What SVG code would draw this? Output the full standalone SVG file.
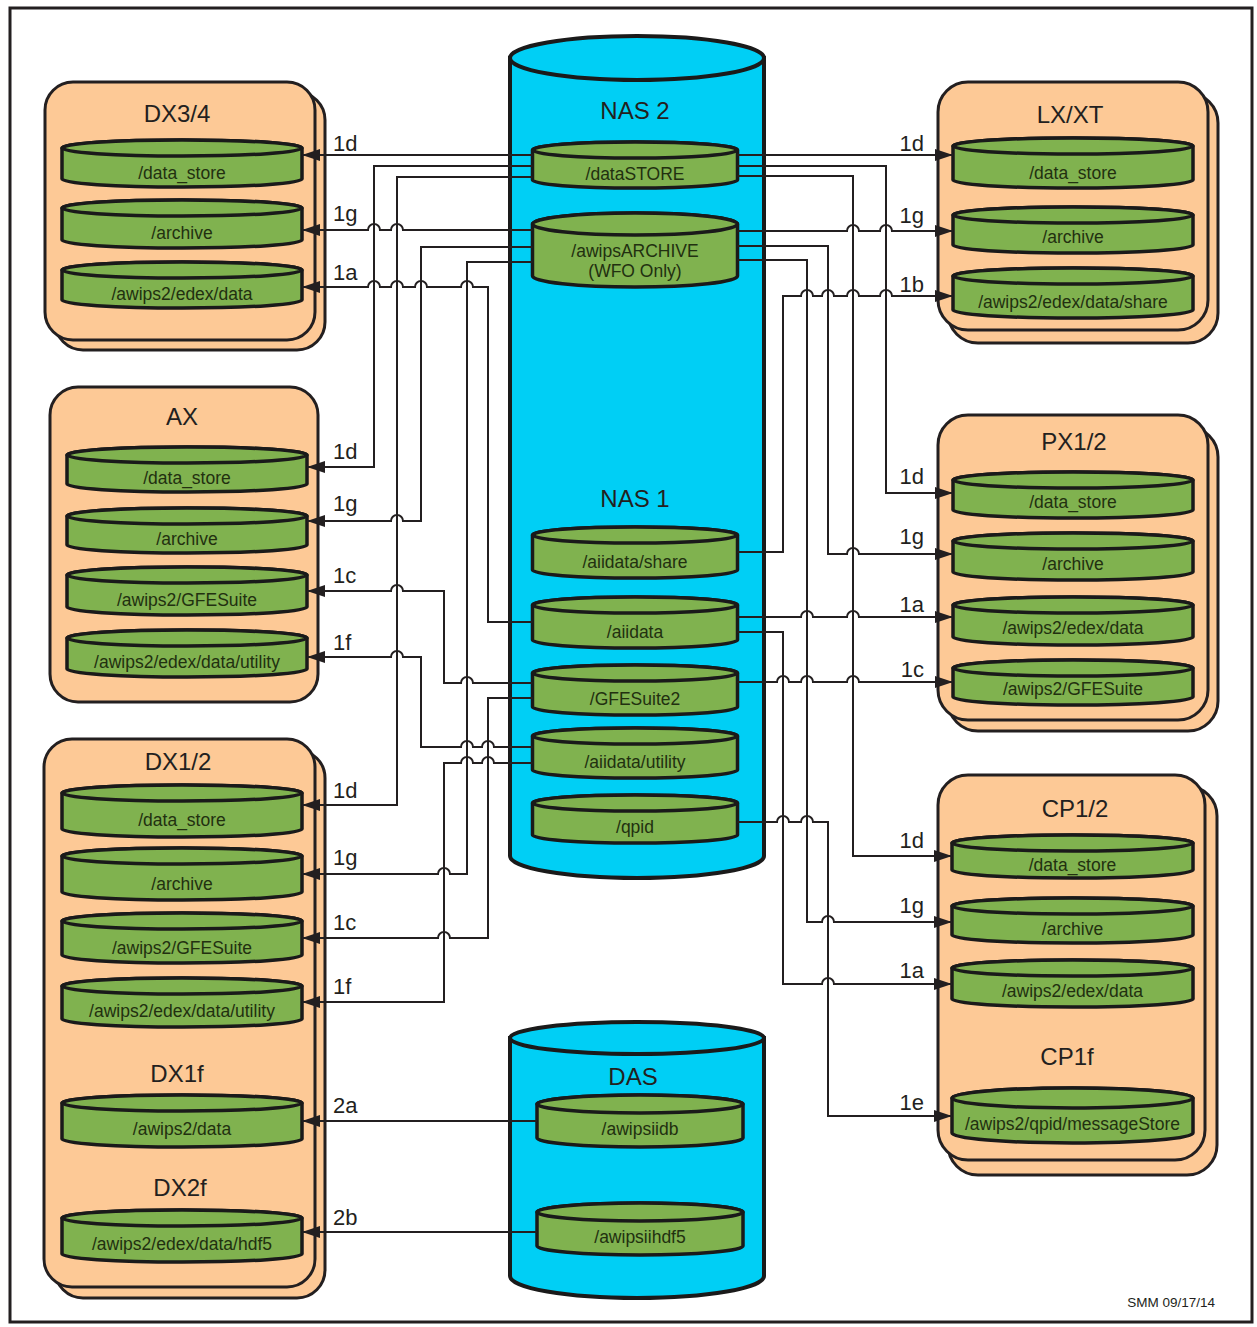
<svg xmlns="http://www.w3.org/2000/svg" width="1257" height="1327" viewBox="0 0 1257 1327">
<style>
.box{fill:#fdc996;stroke:#231f20;stroke-width:3}
.cyl{fill:#80b24f;stroke:#1a1a1a;stroke-width:3.5}
.store{fill:#00cff5;stroke:#1a1a1a;stroke-width:4}
.ttl{font-family:"Liberation Sans",Arial,sans-serif;font-size:24px;fill:#231f20;text-anchor:middle}
.ct{font-family:"Liberation Sans",Arial,sans-serif;font-size:17.5px;fill:#223010;text-anchor:middle}
.lbl{font-family:"Liberation Sans",Arial,sans-serif;font-size:22px;fill:#231f20}
.lbl.r{text-anchor:end}
.wire{fill:none;stroke:#231f20;stroke-width:2}
.wire.a{marker-end:url(#ah)}
</style>
<defs>
<marker id="ah" viewBox="0 0 18 12" markerWidth="18" markerHeight="12" refX="18" refY="6" orient="auto" markerUnits="userSpaceOnUse"><path d="M0,0 L18,6 L0,12 Z" fill="#231f20"/></marker>
</defs>
<rect x="0" y="0" width="1257" height="1327" fill="#fff"/>
<rect x="10" y="8" width="1242" height="1314" fill="none" stroke="#231f20" stroke-width="3"/>

<!-- DX3/4 -->
<g id="dx34">
<rect class="box" x="55" y="92" width="270" height="258" rx="28"/>
<rect class="box" x="45" y="82" width="270" height="258" rx="28"/>
<text class="ttl" x="177" y="122">DX3/4</text>
<path class="cyl" d="M62,148 V179 A120,8 0 0 0 302,179 V148 A120,8 0 0 0 62,148 Z"/><ellipse class="cyl" cx="182" cy="148" rx="120" ry="8"/><text class="ct" x="182" y="179">/data_store</text>
<path class="cyl" d="M62,208 V240 A120,8 0 0 0 302,240 V208 A120,8 0 0 0 62,208 Z"/><ellipse class="cyl" cx="182" cy="208" rx="120" ry="8"/><text class="ct" x="182" y="239">/archive</text>
<path class="cyl" d="M62,270 V300 A120,8 0 0 0 302,300 V270 A120,8 0 0 0 62,270 Z"/><ellipse class="cyl" cx="182" cy="270" rx="120" ry="8"/><text class="ct" x="182" y="300">/awips2/edex/data</text>
</g>

<!-- AX -->
<g id="ax">
<rect class="box" x="50" y="387" width="268" height="315" rx="28"/>
<text class="ttl" x="182" y="425">AX</text>
<path class="cyl" d="M67,455 V484 A120,8 0 0 0 307,484 V455 A120,8 0 0 0 67,455 Z"/><ellipse class="cyl" cx="187" cy="455" rx="120" ry="8"/><text class="ct" x="187" y="484">/data_store</text>
<path class="cyl" d="M67,516 V545 A120,8 0 0 0 307,545 V516 A120,8 0 0 0 67,516 Z"/><ellipse class="cyl" cx="187" cy="516" rx="120" ry="8"/><text class="ct" x="187" y="545">/archive</text>
<path class="cyl" d="M67,575 V607 A120,8 0 0 0 307,607 V575 A120,8 0 0 0 67,575 Z"/><ellipse class="cyl" cx="187" cy="575" rx="120" ry="8"/><text class="ct" x="187" y="606">/awips2/GFESuite</text>
<path class="cyl" d="M67,638 V669 A120,8 0 0 0 307,669 V638 A120,8 0 0 0 67,638 Z"/><ellipse class="cyl" cx="187" cy="638" rx="120" ry="8"/><text class="ct" x="187" y="668">/awips2/edex/data/utility</text>
</g>

<!-- DX1/2 -->
<g id="dx12">
<rect class="box" x="55" y="750" width="270" height="548" rx="28"/>
<rect class="box" x="44" y="739" width="271" height="548" rx="28"/>
<text class="ttl" x="178" y="770">DX1/2</text>
<path class="cyl" d="M62,793 V829 A120,8 0 0 0 302,829 V793 A120,8 0 0 0 62,793 Z"/><ellipse class="cyl" cx="182" cy="793" rx="120" ry="8"/><text class="ct" x="182" y="826">/data_store</text>
<path class="cyl" d="M62,856 V892 A120,8 0 0 0 302,892 V856 A120,8 0 0 0 62,856 Z"/><ellipse class="cyl" cx="182" cy="856" rx="120" ry="8"/><text class="ct" x="182" y="890">/archive</text>
<path class="cyl" d="M62,921 V955 A120,8 0 0 0 302,955 V921 A120,8 0 0 0 62,921 Z"/><ellipse class="cyl" cx="182" cy="921" rx="120" ry="8"/><text class="ct" x="182" y="954">/awips2/GFESuite</text>
<path class="cyl" d="M62,986 V1019 A120,8 0 0 0 302,1019 V986 A120,8 0 0 0 62,986 Z"/><ellipse class="cyl" cx="182" cy="986" rx="120" ry="8"/><text class="ct" x="182" y="1017">/awips2/edex/data/utility</text>
<text class="ttl" x="177" y="1082">DX1f</text>
<path class="cyl" d="M62,1103 V1139 A120,8 0 0 0 302,1139 V1103 A120,8 0 0 0 62,1103 Z"/><ellipse class="cyl" cx="182" cy="1103" rx="120" ry="8"/><text class="ct" x="182" y="1135">/awips2/data</text>
<text class="ttl" x="180" y="1196">DX2f</text>
<path class="cyl" d="M62,1218 V1254 A120,8 0 0 0 302,1254 V1218 A120,8 0 0 0 62,1218 Z"/><ellipse class="cyl" cx="182" cy="1218" rx="120" ry="8"/><text class="ct" x="182" y="1250">/awips2/edex/data/hdf5</text>
</g>

<!-- NAS -->
<g id="nas">
<path class="store" d="M510,58 V856 A127,22 0 0 0 764,856 V58 Z"/>
<ellipse class="store" cx="637" cy="58" rx="127" ry="22"/>
<text class="ttl" x="635" y="119">NAS 2</text>
<path class="cyl" d="M532.5,150 V180 A102.5,8 0 0 0 737.5,180 V150 A102.5,8 0 0 0 532.5,150 Z"/><ellipse class="cyl" cx="635" cy="150" rx="102.5" ry="8"/><text class="ct" x="635" y="180">/dataSTORE</text>
<path class="cyl" d="M532.5,224 V276 A102.5,11 0 0 0 737.5,276 V224 A102.5,11 0 0 0 532.5,224 Z"/><ellipse class="cyl" cx="635" cy="224" rx="102.5" ry="11"/><text class="ct" x="635" y="257">/awipsARCHIVE</text><text class="ct" x="635" y="277">(WFO Only)</text>
<text class="ttl" x="635" y="507">NAS 1</text>
<path class="cyl" d="M532.5,535 V570 A102.5,8 0 0 0 737.5,570 V535 A102.5,8 0 0 0 532.5,535 Z"/><ellipse class="cyl" cx="635" cy="535" rx="102.5" ry="8"/><text class="ct" x="635" y="568">/aiidata/share</text>
<path class="cyl" d="M532.5,605 V640 A102.5,8 0 0 0 737.5,640 V605 A102.5,8 0 0 0 532.5,605 Z"/><ellipse class="cyl" cx="635" cy="605" rx="102.5" ry="8"/><text class="ct" x="635" y="638">/aiidata</text>
<path class="cyl" d="M532.5,673 V707 A102.5,8 0 0 0 737.5,707 V673 A102.5,8 0 0 0 532.5,673 Z"/><ellipse class="cyl" cx="635" cy="673" rx="102.5" ry="8"/><text class="ct" x="635" y="705">/GFESuite2</text>
<path class="cyl" d="M532.5,736 V770 A102.5,8 0 0 0 737.5,770 V736 A102.5,8 0 0 0 532.5,736 Z"/><ellipse class="cyl" cx="635" cy="736" rx="102.5" ry="8"/><text class="ct" x="635" y="768">/aiidata/utility</text>
<path class="cyl" d="M532.5,803 V835 A102.5,8 0 0 0 737.5,835 V803 A102.5,8 0 0 0 532.5,803 Z"/><ellipse class="cyl" cx="635" cy="803" rx="102.5" ry="8"/><text class="ct" x="635" y="833">/qpid</text>
</g>

<!-- DAS -->
<g id="das">
<path class="store" d="M510,1038 V1276 A127,22 0 0 0 764,1276 V1038 Z"/>
<ellipse class="store" cx="637" cy="1038" rx="127" ry="16"/>
<text class="ttl" x="633" y="1085">DAS</text>
<path class="cyl" d="M537,1104 V1138 A103,9 0 0 0 743,1138 V1104 A103,9 0 0 0 537,1104 Z"/><ellipse class="cyl" cx="640" cy="1104" rx="103" ry="9"/><text class="ct" x="640" y="1135">/awipsiidb</text>
<path class="cyl" d="M537,1212 V1246 A103,9 0 0 0 743,1246 V1212 A103,9 0 0 0 537,1212 Z"/><ellipse class="cyl" cx="640" cy="1212" rx="103" ry="9"/><text class="ct" x="640" y="1243">/awipsiihdf5</text>
</g>

<!-- LX/XT -->
<g id="lxxt">
<rect class="box" x="948" y="93" width="270" height="250" rx="30"/>
<rect class="box" x="938" y="82" width="270" height="248" rx="30"/>
<text class="ttl" x="1070" y="123">LX/XT</text>
<path class="cyl" d="M953,146 V180 A120,8 0 0 0 1193,180 V146 A120,8 0 0 0 953,146 Z"/><ellipse class="cyl" cx="1073" cy="146" rx="120" ry="8"/><text class="ct" x="1073" y="179">/data_store</text>
<path class="cyl" d="M953,215 V245 A120,8 0 0 0 1193,245 V215 A120,8 0 0 0 953,215 Z"/><ellipse class="cyl" cx="1073" cy="215" rx="120" ry="8"/><text class="ct" x="1073" y="243">/archive</text>
<path class="cyl" d="M953,276 V310 A120,8 0 0 0 1193,310 V276 A120,8 0 0 0 953,276 Z"/><ellipse class="cyl" cx="1073" cy="276" rx="120" ry="8"/><text class="ct" x="1073" y="308">/awips2/edex/data/share</text>
</g>

<!-- PX1/2 -->
<g id="px12">
<rect class="box" x="948" y="427" width="270" height="304" rx="30"/>
<rect class="box" x="938" y="415" width="270" height="305" rx="30"/>
<text class="ttl" x="1074" y="450">PX1/2</text>
<path class="cyl" d="M953,480 V510 A120,8 0 0 0 1193,510 V480 A120,8 0 0 0 953,480 Z"/><ellipse class="cyl" cx="1073" cy="480" rx="120" ry="8"/><text class="ct" x="1073" y="508">/data_store</text>
<path class="cyl" d="M953,541 V572 A120,8 0 0 0 1193,572 V541 A120,8 0 0 0 953,541 Z"/><ellipse class="cyl" cx="1073" cy="541" rx="120" ry="8"/><text class="ct" x="1073" y="570">/archive</text>
<path class="cyl" d="M953,605 V637 A120,8 0 0 0 1193,637 V605 A120,8 0 0 0 953,605 Z"/><ellipse class="cyl" cx="1073" cy="605" rx="120" ry="8"/><text class="ct" x="1073" y="634">/awips2/edex/data</text>
<path class="cyl" d="M953,668 V697 A120,8 0 0 0 1193,697 V668 A120,8 0 0 0 953,668 Z"/><ellipse class="cyl" cx="1073" cy="668" rx="120" ry="8"/><text class="ct" x="1073" y="695">/awips2/GFESuite</text>
</g>

<!-- CP1/2 -->
<g id="cp12">
<rect class="box" x="948" y="786" width="269" height="389" rx="30"/>
<rect class="box" x="938" y="775" width="267" height="385" rx="30"/>
<text class="ttl" x="1075" y="817">CP1/2</text>
<path class="cyl" d="M952,843 V870 A120.5,8 0 0 0 1193,870 V843 A120.5,8 0 0 0 952,843 Z"/><ellipse class="cyl" cx="1072.5" cy="843" rx="120.5" ry="8"/><text class="ct" x="1072.5" y="871">/data_store</text>
<path class="cyl" d="M952,906 V935 A120.5,8 0 0 0 1193,935 V906 A120.5,8 0 0 0 952,906 Z"/><ellipse class="cyl" cx="1072.5" cy="906" rx="120.5" ry="8"/><text class="ct" x="1072.5" y="935">/archive</text>
<path class="cyl" d="M952,968 V999 A120.5,8 0 0 0 1193,999 V968 A120.5,8 0 0 0 952,968 Z"/><ellipse class="cyl" cx="1072.5" cy="968" rx="120.5" ry="8"/><text class="ct" x="1072.5" y="997">/awips2/edex/data</text>
<text class="ttl" x="1067" y="1065">CP1f</text>
<path class="cyl" d="M952,1098 V1133 A120.5,10 0 0 0 1193,1133 V1098 A120.5,10 0 0 0 952,1098 Z"/><ellipse class="cyl" cx="1072.5" cy="1098" rx="120.5" ry="10"/><text class="ct" x="1072.5" y="1130">/awips2/qpid/messageStore</text>
</g>

<!-- connectors -->
<g id="connectors">
<path class="wire a" d="M532.5,155 H302"/>
<path class="wire a" d="M532.5,230 H403 A6,6 0 0 0 391,230 H380 A6,6 0 0 0 368,230 H302"/>
<path class="wire a" d="M532.5,622 H488 V287 H473 A6,6 0 0 0 461,287 H427 A6,6 0 0 0 415,287 H403 A6,6 0 0 0 391,287 H380 A6,6 0 0 0 368,287 H302"/>
<path class="wire a" d="M532.5,166 H374 V467 H307"/>
<path class="wire a" d="M532.5,247 H421 V521 H403 A6,6 0 0 0 391,521 H307"/>
<path class="wire a" d="M532.5,683 H473 A6,6 0 0 0 461,683 H444 V591 H403 A6,6 0 0 0 391,591 H307"/>
<path class="wire a" d="M532.5,747 H494 A6,6 0 0 0 482,747 H473 A6,6 0 0 0 461,747 H421 V657 H403 A6,6 0 0 0 391,657 H307"/>
<path class="wire a" d="M532.5,177 H397 V805 H302"/>
<path class="wire a" d="M532.5,262 H467 V874 H450 A6,6 0 0 0 438,874 H302"/>
<path class="wire a" d="M532.5,698 H488 V938 H450 A6,6 0 0 0 438,938 H302"/>
<path class="wire a" d="M532.5,763 H494 A6,6 0 0 0 482,763 H473 A6,6 0 0 0 461,763 H444 V1002 H302"/>
<path class="wire a" d="M537,1121 H302"/>
<path class="wire a" d="M537,1232 H302"/>

<path class="wire a" d="M737.5,155 H953"/>
<path class="wire a" d="M737.5,231 H847 A6,6 0 0 1 859,231 H880 A6,6 0 0 1 892,231 H953"/>
<path class="wire a" d="M737.5,552 H783 V296 H801 A6,6 0 0 1 813,296 H822 A6,6 0 0 1 834,296 H847 A6,6 0 0 1 859,296 H880 A6,6 0 0 1 892,296 H953"/>
<path class="wire a" d="M737.5,166 H886 V493 H953"/>
<path class="wire a" d="M737.5,246 H828 V554 H847 A6,6 0 0 1 859,554 H953"/>
<path class="wire a" d="M737.5,617 H801 A6,6 0 0 1 813,617 H847 A6,6 0 0 1 859,617 H953"/>
<path class="wire a" d="M737.5,682 H777 A6,6 0 0 1 789,682 H801 A6,6 0 0 1 813,682 H847 A6,6 0 0 1 859,682 H953"/>
<path class="wire a" d="M737.5,176 H853 V856 H952"/>
<path class="wire a" d="M737.5,260 H807 V922 H822 A6,6 0 0 1 834,922 H952"/>
<path class="wire a" d="M737.5,632 H783 V984 H822 A6,6 0 0 1 834,984 H952"/>
<path class="wire a" d="M737.5,822 H777 A6,6 0 0 1 789,822 H801 A6,6 0 0 1 813,822 H828 V1116 H952"/>

<text class="lbl" x="333" y="151">1d</text>
<text class="lbl" x="333" y="221">1g</text>
<text class="lbl" x="333" y="280">1a</text>
<text class="lbl" x="333" y="459">1d</text>
<text class="lbl" x="333" y="511">1g</text>
<text class="lbl" x="333" y="583">1c</text>
<text class="lbl" x="333" y="650">1f</text>
<text class="lbl" x="333" y="798">1d</text>
<text class="lbl" x="333" y="865">1g</text>
<text class="lbl" x="333" y="930">1c</text>
<text class="lbl" x="333" y="994">1f</text>
<text class="lbl" x="333" y="1113">2a</text>
<text class="lbl" x="333" y="1225">2b</text>
<text class="lbl r" x="924" y="151">1d</text>
<text class="lbl r" x="924" y="223">1g</text>
<text class="lbl r" x="924" y="292">1b</text>
<text class="lbl r" x="924" y="484">1d</text>
<text class="lbl r" x="924" y="544">1g</text>
<text class="lbl r" x="924" y="612">1a</text>
<text class="lbl r" x="924" y="677">1c</text>
<text class="lbl r" x="924" y="848">1d</text>
<text class="lbl r" x="924" y="913">1g</text>
<text class="lbl r" x="924" y="978">1a</text>
<text class="lbl r" x="924" y="1110">1e</text>
</g>

<text x="1215" y="1307" font-family="'Liberation Sans',Arial,sans-serif" font-size="13.5" fill="#231f20" text-anchor="end">SMM 09/17/14</text>
</svg>
